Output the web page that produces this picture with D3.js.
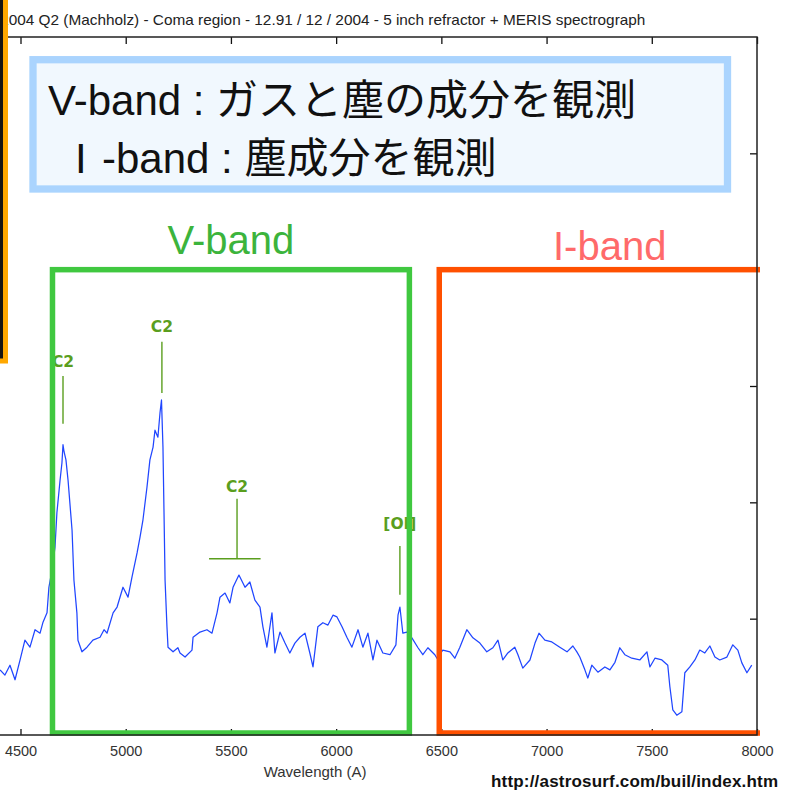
<!DOCTYPE html>
<html>
<head>
<meta charset="utf-8">
<script src="https://cdn.jsdelivr.net/npm/d3@7"></script>
<style>
  body { margin: 0; background: #fff; }
  svg { display: block; }
</style>
</head>
<body>
<svg id="chart" width="787" height="792"></svg>
<script>
// spectrum (wavelength in A, relative flux)
const wavelength = [
  4403, 4426, 4450, 4474, 4498, 4521, 4545, 4569, 4593, 4607,
  4626, 4635, 4650, 4664, 4673, 4688, 4697, 4702, 4707, 4716,
  4726, 4745, 4754, 4768, 4773, 4792, 4816, 4844, 4878, 4897,
  4911, 4940, 4959, 4987, 5011, 5030, 5054, 5068, 5082, 5101,
  5115, 5130, 5139, 5153, 5163, 5170, 5177, 5182, 5187, 5196,
  5201, 5225, 5248, 5258, 5282, 5315, 5320, 5353, 5386, 5410,
  5434, 5448, 5472, 5495, 5510, 5538, 5567, 5590, 5614, 5638,
  5652, 5671, 5695, 5709, 5733, 5757, 5780, 5804, 5828, 5852,
  5875, 5890, 5913, 5937, 5961, 5985, 6004, 6028, 6051, 6075,
  6104, 6127, 6151, 6175, 6194, 6222, 6256, 6284, 6294, 6303,
  6317, 6336, 6360, 6389, 6412, 6436, 6469, 6479, 6507, 6541,
  6564, 6588, 6621, 6650, 6683, 6716, 6745, 6769, 6792, 6816,
  6849, 6864, 6887, 6921, 6945, 6964, 6992, 7025, 7063, 7097,
  7125, 7144, 7158, 7182, 7196, 7215, 7244, 7277, 7301, 7325,
  7348, 7372, 7405, 7443, 7477, 7491, 7515, 7548, 7576, 7586,
  7600, 7619, 7643, 7657, 7681, 7705, 7728, 7752, 7776, 7800,
  7823, 7857, 7885, 7909, 7928, 7952, 7975
];
const flux = [
  0.112, 0.103, 0.120, 0.095, 0.129, 0.163, 0.151, 0.181, 0.175, 0.194,
  0.210, 0.254, 0.284, 0.323, 0.382, 0.438, 0.468, 0.499, 0.487, 0.473,
  0.438, 0.352, 0.266, 0.210, 0.163, 0.143, 0.151, 0.163, 0.168, 0.181,
  0.175, 0.210, 0.220, 0.254, 0.237, 0.272, 0.313, 0.340, 0.370, 0.426,
  0.473, 0.495, 0.524, 0.512, 0.554, 0.576, 0.495, 0.382, 0.266, 0.186,
  0.151, 0.143, 0.150, 0.141, 0.134, 0.146, 0.168, 0.177, 0.181, 0.175,
  0.210, 0.237, 0.244, 0.227, 0.254, 0.275, 0.254, 0.263, 0.232, 0.220,
  0.186, 0.151, 0.210, 0.141, 0.177, 0.158, 0.141, 0.158, 0.168, 0.175,
  0.141, 0.117, 0.186, 0.193, 0.189, 0.206, 0.203, 0.186, 0.168, 0.151,
  0.181, 0.151, 0.175, 0.129, 0.163, 0.141, 0.138, 0.155, 0.206, 0.220,
  0.175, 0.177, 0.167, 0.150, 0.138, 0.150, 0.138, 0.132, 0.146, 0.143,
  0.132, 0.151, 0.181, 0.167, 0.158, 0.143, 0.150, 0.163, 0.129, 0.141,
  0.151, 0.138, 0.115, 0.129, 0.158, 0.175, 0.163, 0.160, 0.151, 0.143,
  0.153, 0.143, 0.134, 0.112, 0.098, 0.120, 0.108, 0.117, 0.112, 0.125,
  0.150, 0.138, 0.132, 0.129, 0.143, 0.117, 0.132, 0.129, 0.120, 0.083,
  0.043, 0.034, 0.040, 0.107, 0.117, 0.129, 0.146, 0.141, 0.153, 0.134,
  0.129, 0.134, 0.155, 0.146, 0.124, 0.107, 0.120
];

const xTicks = [4500, 5000, 5500, 6000, 6500, 7000, 7500, 8000];
const yTicks = [0.2, 0.4, 0.6, 0.8, 1.0];

// emission line marks
const lineLabels = ['C2', 'C2', 'C2', '[OI]'];
const lineWl = [4702, 5172, 5529, 6303];
const lineTop = [0.617, 0.676, 0.406, 0.325];
const lineBottom = [0.535, 0.588, 0.303, 0.241];
const lineLabelAt = [0.633, 0.692, 0.418, 0.355];
const c2Bracket = [5396, 5641];   // wide C2 band

// observing bands
const bandNames = ['V-band', 'I-band'];
const bandRanges = [[4652, 6348], [6490, 8110]];
const bandTop = 0.8;

const title = 'C/2004 Q2 (Machholz) - Coma region - 12.91 / 12 / 2004 - 5 inch refractor + MERIS spectrograph';
const credit = 'http://astrosurf.com/buil/index.htm';

const svg = d3.select('#chart');

const x = d3.scaleLinear().domain([3800, 8000]).range([-126.8, 757]);
const y = d3.scaleLinear().domain([0, 1.2]).range([735, 37]);

const latin = '"Liberation Sans", Arial, sans-serif';
const cjk = '"Liberation Sans", "Noto Sans CJK JP", sans-serif';

// title (the left part sits under the photo panel, as in the source)
svg.append('text')
  .attr('x', (x(3800) + x(8000)) / 2)
  .attr('y', 25)
  .attr('text-anchor', 'middle')
  .attr('font-family', latin)
  .attr('font-size', 15.35)
  .attr('fill', '#222')
  .text(title);

// axes (ticks inside the frame)
const gx = svg.append('g').attr('transform', `translate(0,${y(0)})`)
  .call(d3.axisBottom(x).tickValues(xTicks).tickSizeInner(-6).tickSizeOuter(0).tickFormat(d3.format('d')));
gx.select('.domain').remove();
gx.selectAll('.tick line').attr('stroke', '#111').attr('stroke-width', 1.3);
gx.selectAll('.tick text')
  .attr('y', 21).attr('dy', 0)
  .attr('font-family', latin).attr('font-size', 14.5).attr('fill', '#333');

const gt = svg.append('g').attr('transform', `translate(0,${y(1.2)})`)
  .call(d3.axisTop(x).tickValues(xTicks).tickSizeInner(-7).tickSizeOuter(0).tickFormat(''));
gt.select('.domain').remove();
gt.selectAll('.tick line').attr('stroke', '#111').attr('stroke-width', 1.3);

const gr = svg.append('g').attr('transform', `translate(${x(8000)},0)`)
  .call(d3.axisRight(y).tickValues(yTicks).tickSizeInner(-7).tickSizeOuter(0).tickFormat(''));
gr.select('.domain').remove();
gr.selectAll('.tick line').attr('stroke', '#111').attr('stroke-width', 1.3);

svg.append('text')
  .attr('x', (x(3800) + x(8000)) / 2)
  .attr('y', 777)
  .attr('text-anchor', 'middle')
  .attr('font-family', latin)
  .attr('font-size', 15)
  .attr('fill', '#333')
  .text('Wavelength (A)');

// spectrum
const pts = wavelength.map((w, i) => [w, flux[i]]);
svg.append('path')
  .datum(pts)
  .attr('fill', 'none')
  .attr('stroke', '#2046ff')
  .attr('stroke-width', 1.25)
  .attr('stroke-linejoin', 'round')
  .attr('d', d3.line().x(d => x(d[0])).y(d => y(d[1])));

// line identifications
const marks = svg.append('g').attr('fill', '#5a9e1e').attr('stroke', '#5a9e1e');
lineLabels.forEach((lab, i) => {
  marks.append('line')
    .attr('x1', x(lineWl[i])).attr('x2', x(lineWl[i]))
    .attr('y1', y(lineTop[i])).attr('y2', y(lineBottom[i]))
    .attr('stroke-width', 1.4);
  marks.append('text')
    .attr('x', x(lineWl[i]))
    .attr('y', y(lineLabelAt[i]))
    .attr('text-anchor', 'middle')
    .attr('stroke', 'none')
    .attr('font-family', '"DejaVu Sans", Verdana, sans-serif')
    .attr('font-weight', 'bold')
    .attr('font-size', 15.5)
    .text(lab);
});
marks.append('line')
  .attr('x1', x(c2Bracket[0])).attr('x2', x(c2Bracket[1]))
  .attr('y1', y(lineBottom[2])).attr('y2', y(lineBottom[2]))
  .attr('stroke-width', 1.4);

// band boxes
const bandStroke = ['#40c840', '#ff5000'];
const bandText = ['#3cb43c', '#ff6a6a'];
svg.append('clipPath').attr('id', 'frameClip')
  .append('rect')
  .attr('x', x(3800)).attr('y', 0)
  .attr('width', x(8000) - x(3800) + 3).attr('height', 792);

bandNames.forEach((name, i) => {
  const [a, b] = bandRanges[i];
  svg.append('rect')
    .attr('clip-path', 'url(#frameClip)')
    .attr('x', x(a)).attr('y', y(bandTop))
    .attr('width', x(b) - x(a)).attr('height', y(0) - 2 - y(bandTop))
    .attr('fill', 'none')
    .attr('stroke', bandStroke[i])
    .attr('stroke-width', 5.5);
  svg.append('text')
    .attr('x', (x(a) + x(b)) / 2)
    .attr('y', y(bandTop) - 16 + i * 6)
    .attr('text-anchor', 'middle')
    .attr('font-family', latin)
    .attr('font-size', 40)
    .attr('fill', bandText[i])
    .text(name);
});

// frame
svg.append('rect')
  .attr('x', x(3800)).attr('y', y(1.2))
  .attr('width', x(8000) - x(3800)).attr('height', y(0) - y(1.2))
  .attr('fill', 'none')
  .attr('stroke', '#222')
  .attr('stroke-width', 1.5);

// note box
svg.append('rect')
  .attr('x', 33).attr('y', 59.7)
  .attr('width', 694.5).attr('height', 129.3)
  .attr('fill', '#f1f8fe')
  .attr('stroke', '#aad4fe')
  .attr('stroke-width', 7.3);

svg.append('text')
  .attr('x', 48).attr('y', 115)
  .attr('font-family', cjk).attr('font-size', 42).attr('fill', '#111')
  .text('V-band : ガスと塵の成分を観測');

const note2 = svg.append('text')
  .attr('y', 173)
  .attr('font-family', cjk).attr('font-size', 42).attr('fill', '#111');
note2.append('tspan').attr('x', 75).text('I');
note2.append('tspan').attr('x', 102).text('-band : 塵成分を観測');

// photo panel at the left edge
svg.append('rect')
  .attr('x', -20).attr('y', -20)
  .attr('width', 25.5).attr('height', 381)
  .attr('fill', '#161412')
  .attr('stroke', '#ffa800')
  .attr('stroke-width', 5);

// credit
svg.append('text')
  .attr('x', 778)
  .attr('y', 787)
  .attr('text-anchor', 'end')
  .attr('font-family', latin)
  .attr('font-weight', 'bold')
  .attr('font-size', 17)
  .attr('fill', '#111')
  .attr('textLength', 287)
  .attr('lengthAdjust', 'spacing')
  .text(credit);
</script>
</body>
</html>
